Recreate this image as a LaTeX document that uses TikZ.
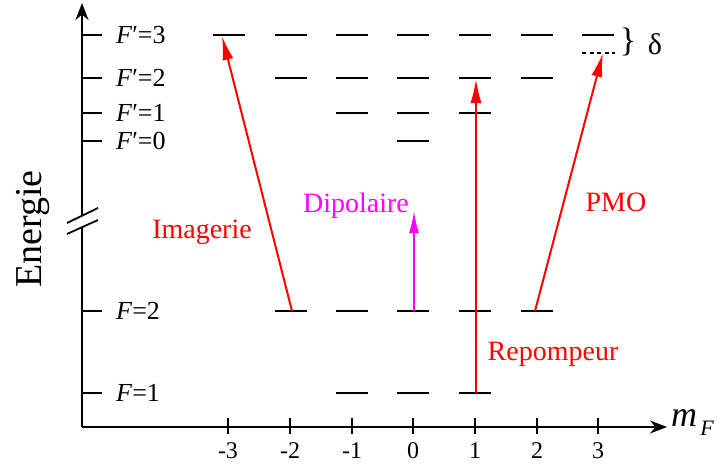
\documentclass[tikz,border=0pt]{standalone}
\usepackage{fontspec}
\setmainfont{Liberation Serif}
\usetikzlibrary{arrows.meta}
\definecolor{pmag}{RGB}{255,0,255}
\definecolor{pred}{RGB}{255,0,0}
\begin{document}
\begin{tikzpicture}[x=1pt,y=-1pt,
  lvl/.style={line width=2.9pt},
  axis/.style={line width=2.1pt},
  tickline/.style={line width=2.1pt},
  lbl/.style={font=\fontsize{26}{26}\selectfont, anchor=west, inner sep=0pt},
  ticklbl/.style={font=\fontsize{24}{24}\selectfont, inner sep=0pt},
  beam/.style={pred, line width=2pt, -{Latex[length=24pt,width=11pt]}},
  redtxt/.style={pred, font=\fontsize{28}{28}\selectfont, inner sep=0pt}
]
\useasboundingbox (0,0) rectangle (722,466);
% axes
\coordinate (O) at (82,427);
\coordinate (ytop) at (82,3);
\coordinate (xend) at (667,427);
\coordinate (bk1) at (82,215);
\coordinate (bk2) at (82,227);
\draw[axis] (O) -- (bk2);
\draw[axis, -{Stealth[length=17pt,width=13pt]}] (bk1) -- (ytop);
\draw[axis, -{Stealth[length=17pt,width=13pt]}] (O) -- (xend);
\draw[line width=1.8pt] (67,223) -- (98,208);
\draw[line width=1.8pt] (67,234) -- (98,220);
% y ticks and labels
\foreach \yy/\t in {35/{\textit{F}′=3},78/{\textit{F}′=2},113/{\textit{F}′=1},141/{\textit{F}′=0},311/{\textit{F}=2},393/{\textit{F}=1}}{
  \draw[tickline] (82,\yy) -- (102,\yy);
  \node[lbl] at (116,\yy) {\t};
}
% x ticks
\foreach \m/\xx in {-3/228,-2/290,-1/352,0/413,1/475,2/537,3/598}{
  \draw[tickline] (\xx,418) -- (\xx,434);
  \node[ticklbl] at (\xx,451) {\m};
}
\node[font=\fontsize{36}{36}\selectfont\itshape, inner sep=0pt] (mf) at (684,418) {m};
\node[font=\fontsize{22}{22}\selectfont\itshape, inner sep=0pt] (mfs) at (707,428) {F};
\node[rotate=90, font=\fontsize{38}{38}\selectfont, inner sep=0pt] (en) at (33,229) {Energie};
% levels
\foreach \xx in {229,291,352,413,475,537,598}{\draw[lvl] (\xx-16,35) -- (\xx+16,35);}
\foreach \xx in {291,352,413,475,537}{\draw[lvl] (\xx-16,78) -- (\xx+16,78);}
\foreach \xx in {352,413,475}{\draw[lvl] (\xx-16,113) -- (\xx+16,113);}
\draw[lvl] (397,141) -- (429,141);
\foreach \xx in {291,352,413,475,537}{\draw[lvl] (\xx-16,311) -- (\xx+16,311);}
\foreach \xx in {352,413,475}{\draw[lvl] (\xx-16,393) -- (\xx+16,393);}
\draw[line width=1.3pt, dash pattern=on 4pt off 3.5pt] (582,53) -- (615,53);
\node[font=\fontsize{34}{34}\selectfont, inner sep=0pt] (brace) at (628,42) {\}};
\node[font=\fontsize{30}{30}\selectfont, inner sep=0pt] (delta) at (655,44) {δ};
% transitions
\coordinate (i1) at (292,311); \coordinate (i2) at (222,36);
\coordinate (r1) at (476,393); \coordinate (r2) at (476,79);
\coordinate (p1) at (535,311); \coordinate (p2) at (603,53);
\coordinate (d1) at (414,311); \coordinate (d2) at (414,211);
\draw[beam] (i1) -- (i2);
\draw[beam] (r1) -- (r2);
\draw[beam] (p1) -- (p2);
\draw[beam, pmag, -{Latex[length=22pt,width=10pt]}] (d1) -- (d2);
\node[redtxt] (t1) at (202,232) {Imagerie};
\node[redtxt] (t2) at (553,354) {Repompeur};
\node[redtxt] (t3) at (616,202) {PMO};
\node[redtxt, pmag] (t4) at (356,206) {Dipolaire};
\end{tikzpicture}
\end{document}
